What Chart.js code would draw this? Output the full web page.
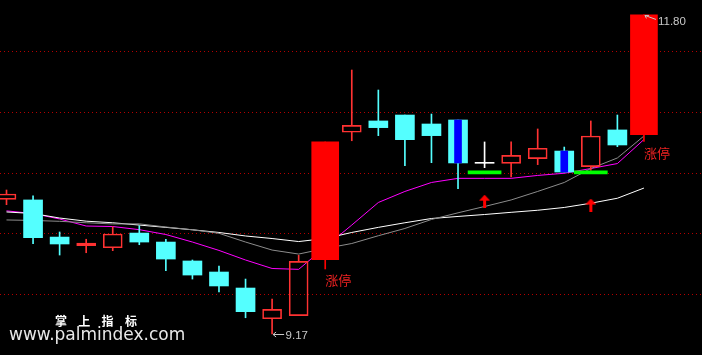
<!DOCTYPE html>
<html><head><meta charset="utf-8">
<script src="https://cdn.jsdelivr.net/npm/chart.js@4.4.1/dist/chart.umd.min.js"></script>
<style>
html,body{margin:0;padding:0;background:#000;}
#wrap{position:relative;width:702px;height:355px;background:#000;overflow:hidden;}
#wm1{position:absolute;left:55px;top:315px;font:bold 12px "Noto Sans CJK SC";line-height:12px;letter-spacing:11.3px;color:#fff;white-space:nowrap;}
#wm2{position:absolute;left:9px;top:328.3px;font:17px "DejaVu Sans";line-height:13px;color:#e8e8e8;white-space:nowrap;}
</style></head><body>
<div id="wrap"><canvas id="c"></canvas><div id="wm1">掌上指标</div><div id="wm2">www.palmindex.com</div></div>
<script>
// ---- data ----
const opens  = [10.28, 10.275, 9.969, 9.898, 9.881, 10.002, 9.928, 9.772, 9.681, 9.549, 9.296, 9.321, 9.782, 10.833, 10.926, 10.975, 10.901, 10.934, 10.577, 10.577, 10.615, 10.678, 10.549, 10.852, 10.813];
const highs  = [10.357, 10.308, 10.011, 9.951, 10.054, 10.063, 9.951, 9.780, 9.730, 9.623, 9.458, 9.819, 10.753, 11.346, 11.181, 10.975, 10.983, 10.934, 10.753, 10.753, 10.860, 10.711, 10.926, 10.975, 11.80];
const lows   = [10.236, 9.914, 9.821, 9.840, 9.857, 9.906, 9.692, 9.623, 9.516, 9.304, 9.17, 9.321, 9.706, 10.763, 10.805, 10.557, 10.582, 10.368, 10.541, 10.464, 10.566, 10.505, 10.519, 10.714, 10.758];
const closes = [10.324, 9.964, 9.912, 9.920, 9.994, 9.928, 9.788, 9.656, 9.566, 9.354, 9.373, 9.769, 10.753, 10.890, 10.871, 10.772, 10.805, 10.580, 10.577, 10.643, 10.701, 10.505, 10.802, 10.728, 11.80];
const maWhite   = [10.176, 10.163, 10.126, 10.100, 10.087, 10.068, 10.049, 10.029, 10.007, 9.978, 9.957, 9.932, 9.957, 10.007, 10.049, 10.087, 10.122, 10.139, 10.155, 10.173, 10.190, 10.213, 10.248, 10.289, 10.373];
const maGray    = [10.110, 10.106, 10.099, 10.087, 10.077, 10.078, 10.052, 10.029, 10.000, 9.928, 9.862, 9.829, 9.875, 9.916, 9.980, 10.040, 10.114, 10.169, 10.221, 10.275, 10.345, 10.419, 10.534, 10.621, 10.802];
const maMagenta = [10.185, 10.163, 10.118, 10.060, 10.056, 10.030, 9.990, 9.928, 9.859, 9.780, 9.710, 9.703, 9.887, 10.068, 10.254, 10.345, 10.419, 10.453, 10.453, 10.453, 10.477, 10.495, 10.534, 10.575, 10.773];
const limitUpIdx = [12, 24];
const limitUpText = "涨停";
const blueIdx = [17, 21];
const signalIdx = [18, 22];
const signalLevel = [10.49, 10.49];
const arrowIdx = [18, 22];
const arrowPrice = [10.265, 10.233];
const gridLevels = [9.5, 10, 10.5, 11, 11.5];

// ---- styles ----
const RED = '#ff3232', RED_FILL = '#ff0000', CYAN = '#54ffff', WHITE = '#ffffff';
const idx = opens.map((_, i) => i);
function kind(i){
  if (limitUpIdx.includes(i)) return 'limit';
  if (closes[i] > opens[i]) return 'up';
  if (closes[i] < opens[i]) return 'down';
  return 'doji';
}
function wickColor(i){ const k = kind(i); return k==='limit'?RED_FILL:k==='up'?RED:k==='down'?CYAN:WHITE; }
const bodyTop = i => Math.max(opens[i], closes[i]);
const bodyBot = i => Math.min(opens[i], closes[i]);

const arrowImg = document.createElement('canvas');
arrowImg.width = 11; arrowImg.height = 13;
(function(){ const a = arrowImg.getContext('2d'); a.fillStyle = '#ff0000';
  a.beginPath(); a.moveTo(0,6); a.lineTo(5.5,0); a.lineTo(11,6); a.closePath(); a.fill();
  a.fillRect(4,6,3,7); })();

const lineDs = (arr, color) => ({type:'line', data: arr.map((v,i)=>({x:i,y:v})), borderColor:color, borderWidth:1,
  pointRadius:0, tension:0, fill:false, order:10});

const datasets = [
  lineDs(maGray, '#8c8c8c'),
  lineDs(maWhite, '#ffffff'),
  lineDs(maMagenta, '#ff00ff'),
  {type:'bar', data: idx.map(i=>({x:i, y:[bodyTop(i), highs[i]]})), backgroundColor: c=>wickColor(c.raw.x),
   barThickness:1, grouped:false, order:6},
  {type:'bar', data: idx.map(i=>({x:i, y:[lows[i], bodyBot(i)]})), backgroundColor: c=>wickColor(c.raw.x),
   barThickness:1, grouped:false, order:6},
  {type:'bar', data: idx.filter(i=>kind(i)!=='limit').map(i=>({x:i, y:[bodyBot(i), bodyTop(i)]})),
   backgroundColor: c=>{const k=kind(c.raw.x); return k==='up'?'rgba(0,0,0,0)':k==='down'?CYAN:WHITE;},
   borderColor: RED, borderWidth: c=>kind(c.raw.x)==='up'?1:0, borderSkipped:false,
   barThickness:19, minBarLength:1, grouped:false, order:4},
  {type:'bar', data: limitUpIdx.map(i=>({x:i, y:[bodyBot(i), bodyTop(i)]})), backgroundColor: RED_FILL,
   barThickness:27, grouped:false, order:3},
  {type:'bar', data: blueIdx.map(i=>({x:i, y:[bodyBot(i), bodyTop(i)]})), backgroundColor:'#0000ff',
   barThickness:7, grouped:false, order:2},
  {type:'bar', data: signalIdx.map((i,k)=>({x:i, y:[signalLevel[k], signalLevel[k]]})), backgroundColor:'#00ff00',
   barThickness:33, minBarLength:3, grouped:false, order:1},
  {type:'scatter', data: arrowIdx.map((i,k)=>({x:i, y:arrowPrice[k]})), pointStyle: arrowImg, pointRadius:6, order:0}
];

const annot = {
  id:'annot',
  beforeDatasetsDraw(chart){
    const {ctx, chartArea, scales:{y}} = chart;
    ctx.save(); ctx.strokeStyle = '#b40000'; ctx.lineWidth = 1; ctx.setLineDash([1,3]);
    gridLevels.forEach(v=>{ const py = Math.round(y.getPixelForValue(v)) + 0.5;
      ctx.beginPath(); ctx.moveTo(chartArea.left, py); ctx.lineTo(chartArea.right, py); ctx.stroke(); });
    ctx.restore();
  },
  afterDatasetsDraw(chart){
    const {ctx, scales:{x, y}} = chart;
    ctx.save();
    ctx.fillStyle = '#ee2222'; ctx.font = '13px "Noto Sans CJK SC"'; ctx.textAlign = 'left'; ctx.textBaseline = 'top';
    limitUpIdx.forEach(i=>{ ctx.fillText(limitUpText, x.getPixelForValue(i), y.getPixelForValue(lows[i]) + 5); });
    const lo = Math.min(...lows), hi = Math.max(...highs);
    const iLo = lows.indexOf(lo), iHi = highs.indexOf(hi);
    ctx.strokeStyle = '#c8c8c8'; ctx.fillStyle = '#c8c8c8'; ctx.lineWidth = 1;
    ctx.font = '11.5px "Liberation Sans"'; ctx.textBaseline = 'alphabetic';
    let px = x.getPixelForValue(iLo), py = Math.round(y.getPixelForValue(lo)) + 0.5;
    ctx.beginPath(); ctx.moveTo(px+1, py); ctx.lineTo(px+12, py);
    ctx.moveTo(px+4, py-2.5); ctx.lineTo(px+1, py); ctx.lineTo(px+4, py+2.5); ctx.stroke();
    ctx.fillText(lo.toFixed(2), px + 13.5, py + 4);
    px = x.getPixelForValue(iHi); py = y.getPixelForValue(hi);
    ctx.beginPath(); ctx.moveTo(px+1, py+0.5); ctx.lineTo(px+12, py+4.5);
    ctx.moveTo(px+1, py+0.5); ctx.lineTo(px+5, py+0.5); ctx.moveTo(px+1, py+0.5); ctx.lineTo(px+2.5, py+3.5); ctx.stroke();
    ctx.fillText(hi.toFixed(2), px + 14, py + 10);
    ctx.restore();
  }
};

new Chart(document.getElementById('c'), {
  type:'bar',
  data:{datasets},
  options:{
    responsive:true, maintainAspectRatio:false, animation:false, events:[],
    layout:{padding:0, autoPadding:false},
    plugins:{legend:{display:false}, tooltip:{enabled:false}},
    scales:{
      x:{type:'linear', min:-0.2447, max:26.186, offset:false, display:false},
      y:{type:'linear', min:8.997, max:11.923, display:false}
    }
  },
  plugins:[annot]
});
</script>
</body></html>
